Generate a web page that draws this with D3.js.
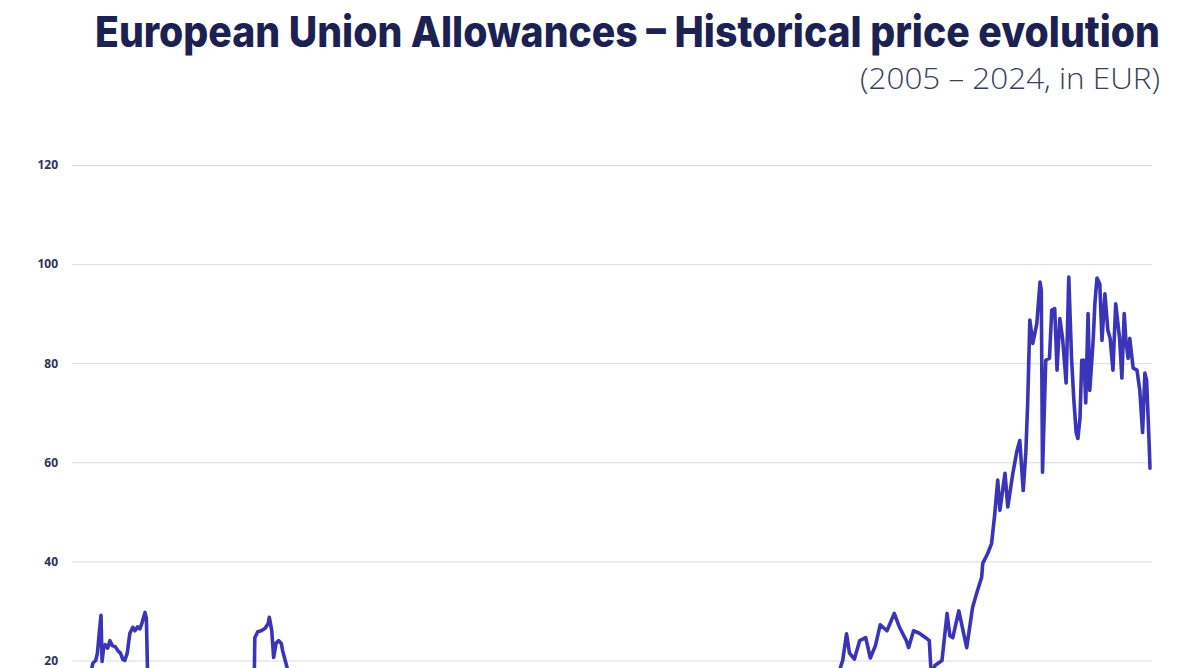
<!DOCTYPE html>
<html>
<head>
<meta charset="utf-8">
<script src="https://cdn.jsdelivr.net/npm/d3@7"></script>
<style>
  html, body { margin: 0; padding: 0; background: #ffffff; overflow: hidden; }
  svg { display: block; }
</style>
</head>
<body>
<svg id="chart" width="1179" height="668"></svg>
<script>
const titleText = "European Union Allowances \u2013 Historical price evolution";
const subtitleText = "(2005 \u2013 2024, in EUR)";
const yTicks = [0, 20, 40, 60, 80, 100, 120];

const dates = [
  "2005-01-03","2005-02-01","2005-03-01","2005-03-25","2005-04-20","2005-05-07","2005-05-25","2005-06-05","2005-06-15","2005-06-28",
  "2005-07-05","2005-07-15","2005-07-25","2005-08-10","2005-08-25","2005-09-10","2005-09-28","2005-10-15","2005-11-01","2005-11-17",
  "2005-11-29","2005-12-15","2006-01-01","2006-01-20","2006-02-03","2006-02-20","2006-03-07","2006-03-20","2006-04-09","2006-04-18",
  "2006-04-26","2006-05-05","2006-05-20","2006-06-15","2006-07-15","2006-08-15","2006-09-15","2006-10-15","2006-11-15","2006-12-15",
  "2007-01-15","2007-02-15","2007-03-15","2007-06-01","2007-09-01","2007-12-15","2008-02-15","2008-03-10","2008-03-20","2008-04-08",
  "2008-05-01","2008-05-26","2008-06-15","2008-06-22","2008-07-08","2008-07-20","2008-08-05","2008-08-22","2008-09-08","2008-09-16",
  "2008-10-15","2008-11-15","2008-12-15","2009-01-15","2009-02-15","2009-03-15","2009-05-01","2009-07-01","2009-09-01","2009-11-01",
  "2010-01-15","2010-04-15","2010-06-15","2010-09-15","2010-12-15","2011-03-15","2011-05-15","2011-07-15","2011-09-15","2011-12-15",
  "2012-03-15","2012-06-15","2012-09-15","2012-12-15","2013-03-15","2013-04-20","2013-07-15","2013-10-15","2014-01-15","2014-04-15",
  "2014-07-15","2014-10-15","2015-01-15","2015-04-15","2015-07-15","2015-10-15","2016-01-15","2016-02-15","2016-05-15","2016-08-15",
  "2016-11-15","2017-02-15","2017-05-15","2017-08-15","2017-11-15","2018-01-15","2018-03-01","2018-04-15","2018-05-15","2018-07-01",
  "2018-08-01","2018-08-22","2018-09-16","2018-10-05","2018-11-06","2018-12-10","2019-01-18","2019-02-17","2019-03-22","2019-04-22",
  "2019-06-05","2019-07-22","2019-08-25","2019-10-08","2019-10-23","2019-11-24","2019-12-31","2020-02-10","2020-03-05","2020-03-20",
  "2020-04-10","2020-05-26","2020-06-28","2020-07-16","2020-08-04","2020-09-12","2020-11-02","2020-12-10","2021-01-05","2021-02-07",
  "2021-02-14","2021-03-18","2021-04-12","2021-05-01","2021-05-22","2021-06-05","2021-07-08","2021-07-26","2021-08-28","2021-09-24",
  "2021-10-12","2021-11-03","2021-11-20","2021-12-02","2021-12-16","2022-01-04","2022-01-30","2022-02-20","2022-02-28","2022-03-08",
  "2022-03-29","2022-04-22","2022-05-07","2022-05-26","2022-06-10","2022-06-28","2022-07-16","2022-08-08","2022-08-25","2022-09-12",
  "2022-09-27","2022-10-12","2022-10-23","2022-11-06","2022-11-17","2022-12-02","2022-12-13","2022-12-28","2023-01-08","2023-01-30",
  "2023-02-10","2023-02-24","2023-03-14","2023-03-28","2023-04-16","2023-05-05","2023-05-20","2023-06-07","2023-06-25","2023-07-20",
  "2023-08-04","2023-08-19","2023-08-30","2023-09-13","2023-09-24","2023-10-16","2023-11-10","2023-11-28","2023-12-16","2023-12-31",
  "2024-01-11","2024-01-26","2024-02-02"
];

const prices = [
  7.2, 7.6, 11.5, 15, 17, 19.5, 20, 21.5, 25, 29.1,
  19.8, 22.5, 23.2, 22.5, 24, 23, 22.8, 22, 21.5, 20.2,
  20, 21.5, 25.5, 26.7, 26, 26.8, 26.4, 27.5, 29.7, 28.5,
  17, 12, 15, 16, 16.5, 17, 15, 11, 8.5, 6.5,
  3.5, 1.5, 1.0, 0.2, 0.08, 0.03, 0.02, 0.02, 24.6, 25.8,
  26, 26.5, 27.5, 28.7, 26, 20.6, 23.5, 24, 23.4, 22,
  18.6, 15.5, 15, 12, 8.5, 11, 13.5, 14, 14, 13.5,
  13, 14.5, 15.5, 15, 14.5, 16.5, 16.5, 12, 11, 7,
  8, 7, 7.5, 6.5, 4, 2.8, 4.5, 5, 5, 6.5,
  6, 6.5, 7, 7.2, 8, 8.3, 6.5, 4.8, 6, 4.5,
  5, 5, 4.7, 6, 7.5, 8.5, 10, 13, 15, 15.5,
  18, 20, 25.4, 21.5, 20.3, 24, 24.6, 20.5, 23, 27.2,
  26, 29.5, 26.7, 24, 22.6, 26, 25.5, 24.6, 24, 15.5,
  19, 20, 29.5, 25, 24.6, 30, 22.6, 30.7, 33.5, 36.8,
  39.6, 41.6, 43.6, 49, 56.4, 50.3, 57.8, 51, 57.8, 62.4,
  64.4, 54.3, 62, 72, 88.7, 84, 88, 96.4, 94.7, 58,
  80.6, 81, 90.7, 91, 78.6, 89, 85, 76, 97.4, 81,
  72.5, 66, 64.8, 69, 80.6, 80.6, 72, 90, 74.5, 84.6,
  92, 97.2, 96, 84.6, 94, 86.7, 85, 78.6, 92, 85,
  77, 90, 84.6, 81, 85, 79, 78.6, 74.5, 66, 78,
  76.6, 65, 58.8
];

const parse = d3.timeParse("%Y-%m-%d");
const data = dates.map((d, i) => ({ date: parse(d), value: prices[i] }));

const svg = d3.select("#chart");
const left = 73.5, right = 1152;
const x = d3.scaleTime()
  .domain([parse("2005-01-01"), parse("2024-02-15")])
  .range([left, right]);
const y = d3.scaleLinear().domain([0, 120]).range([759.6, 165]);

// gridlines + labels
const yAxis = d3.axisLeft(y)
  .tickValues(yTicks)
  .tickSize(-(right - left + 1.5))
  .tickPadding(14)
  .tickFormat(d3.format("d"));

const gAxis = svg.append("g")
  .attr("transform", `translate(${left - 1.5},0)`)
  .call(yAxis);
gAxis.select(".domain").remove();
gAxis.selectAll(".tick line").attr("stroke", "#dcdcdc").attr("stroke-width", 1);
gAxis.selectAll(".tick text")
  .attr("fill", "#2e3352")
  .style("font-family", "'Open Sans', 'Noto Sans', sans-serif")
  .style("font-weight", "700")
  .style("font-size", "12px");

// line
const line = d3.line()
  .x(d => x(d.date))
  .y(d => y(d.value))
  .curve(d3.curveLinear);

svg.append("path")
  .datum(data)
  .attr("fill", "none")
  .attr("stroke", "#3a34b8")
  .attr("stroke-width", 3.6)
  .attr("stroke-linejoin", "round")
  .attr("stroke-linecap", "round")
  .attr("d", line);

// title
svg.append("text")
  .attr("x", 95)
  .attr("y", 47)
  .attr("textLength", 1065)
  .attr("lengthAdjust", "spacingAndGlyphs")
  .attr("fill", "#1c2152")
  .style("font-family", "Inter, 'Noto Sans', sans-serif")
  .style("font-weight", "800")
  .style("font-size", "43px")
  .text(titleText);

svg.append("text")
  .attr("x", 860)
  .attr("y", 89)
  .attr("textLength", 300)
  .attr("lengthAdjust", "spacingAndGlyphs")
  .attr("fill", "#3a3f58")
  .style("font-family", "'Open Sans', 'Noto Sans', sans-serif")
  .style("font-weight", "300")
  .style("font-size", "29px")
  .text(subtitleText);
</script>
</body>
</html>
